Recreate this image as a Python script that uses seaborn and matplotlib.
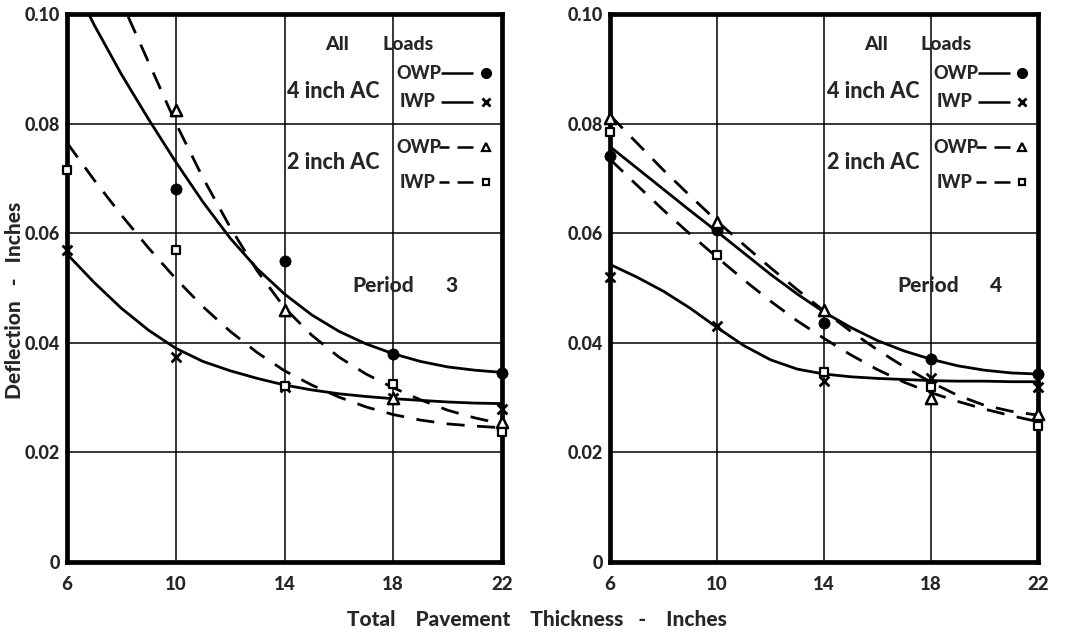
import numpy as np
import pandas as pd
import matplotlib
matplotlib.use("Agg")
import matplotlib.pyplot as plt
import seaborn as sns

# ---------------- data ----------------
thickness = [6, 10, 14, 18, 22]
x_ticks = [6, 10, 14, 18, 22]
y_ticks = [0, 0.02, 0.04, 0.06, 0.08, 0.10]
y_tick_labels = ["0", "0.02", "0.04", "0.06", "0.08", "0.10"]

# Period 3 measured points
p3_owp4_pts = [np.nan, 0.068, 0.055, 0.038, 0.0345]
p3_iwp4_pts = [0.057, 0.0375, 0.032, 0.030, 0.028]
p3_owp2_pts = [np.nan, 0.0825, 0.046, 0.030, 0.0255]
p3_iwp2_pts = [0.0715, 0.057, 0.0322, 0.0325, 0.0237]

# Period 4 measured points
p4_owp4_pts = [0.074, 0.0605, 0.0437, 0.037, 0.0343]
p4_iwp4_pts = [0.052, 0.043, 0.033, 0.0335, 0.032]
p4_owp2_pts = [0.081, 0.062, 0.046, 0.030, 0.027]
p4_iwp2_pts = [0.0785, 0.056, 0.0346, 0.032, 0.0249]

# fitted curves (read at each inch)
curve_x = [6, 7, 8, 9, 10, 11, 12, 13, 14, 15, 16, 17, 18, 19, 20, 21, 22]

p3_owp4_curve_x = [6.8, 7, 8, 9, 10, 11, 12, 13, 14, 15, 16, 17, 18, 19, 20, 21, 22]
p3_owp4_curve = [0.100, 0.0980, 0.0890, 0.0808, 0.0730, 0.0657, 0.0591, 0.0535, 0.0489,
                 0.0451, 0.0421, 0.0398, 0.0380, 0.0366, 0.0356, 0.0350, 0.0346]
p3_iwp4_curve = [0.0562, 0.0510, 0.0463, 0.0423, 0.0390, 0.0366, 0.0349, 0.0335, 0.0323,
                 0.0314, 0.0307, 0.0302, 0.0298, 0.0295, 0.0292, 0.0290, 0.0289]
p3_owp2_curve_x = [8.25, 9, 10, 11, 12, 13, 14, 15, 16, 17, 18, 19, 20, 21, 22]
p3_owp2_curve = [0.0995, 0.0912, 0.0801, 0.0701, 0.0611, 0.0531, 0.0464, 0.0414, 0.0374,
                 0.0343, 0.0318, 0.0296, 0.0277, 0.0263, 0.0252]
p3_iwp2_curve = [0.0765, 0.0697, 0.0633, 0.0573, 0.0517, 0.0466, 0.0421, 0.0382, 0.0349,
                 0.0323, 0.0301, 0.0283, 0.0269, 0.0259, 0.0252, 0.0248, 0.0245]

p4_owp4_curve = [0.0758, 0.0719, 0.0680, 0.0641, 0.0603, 0.0564, 0.0525, 0.0489, 0.0456,
                 0.0428, 0.0404, 0.0385, 0.0370, 0.0358, 0.0350, 0.0345, 0.0343]
p4_iwp4_curve = [0.0543, 0.0520, 0.0494, 0.0463, 0.0428, 0.0395, 0.0369, 0.0352, 0.0343,
                 0.0338, 0.0335, 0.0333, 0.0331, 0.0330, 0.0330, 0.0329, 0.0329]
p4_owp2_curve = [0.0815, 0.0765, 0.0715, 0.0668, 0.0622, 0.0579, 0.0537, 0.0497, 0.0458,
                 0.0421, 0.0387, 0.0356, 0.0328, 0.0304, 0.0286, 0.0275, 0.0268]
p4_iwp2_curve = [0.0735, 0.0688, 0.0642, 0.0598, 0.0556, 0.0515, 0.0476, 0.0440, 0.0408,
                 0.0378, 0.0351, 0.0328, 0.0309, 0.0293, 0.0279, 0.0267, 0.0256]

# ---------------- styling ----------------
sns.set_theme(style="white")
plt.rcParams["font.family"] = ["Lato", "DejaVu Sans"]
W = "black"  # font weight

INK = "black"
DASH = (0, (6.5, 4.5))
LW = 2.0

fig = plt.figure(figsize=(10.7, 6.35), dpi=100)
ax_l = fig.add_axes([67 / 1070, 1 - 562 / 635, (502 - 67) / 1070, (562 - 14) / 635])
ax_r = fig.add_axes([610 / 1070, 1 - 562 / 635, (1038 - 610) / 1070, (562 - 14) / 635])

panels = [
    (ax_l, "3",
     [(p3_owp4_curve_x, p3_owp4_curve, "-"), (curve_x, p3_iwp4_curve, "-"),
      (p3_owp2_curve_x, p3_owp2_curve, DASH), (curve_x, p3_iwp2_curve, DASH)],
     [p3_owp4_pts, p3_iwp4_pts, p3_owp2_pts, p3_iwp2_pts], 19.9, 16.5),
    (ax_r, "4",
     [(curve_x, p4_owp4_curve, "-"), (curve_x, p4_iwp4_curve, "-"),
      (curve_x, p4_owp2_curve, DASH), (curve_x, p4_iwp2_curve, DASH)],
     [p4_owp4_pts, p4_iwp4_pts, p4_owp2_pts, p4_iwp2_pts], 20.2, 16.73),
]

marker_specs = [
    dict(marker="o", s=65, color=INK, edgecolor=INK, linewidth=0.5),
    dict(marker="x", s=50, color=INK, linewidth=2.0),
    dict(marker="^", s=65, facecolor="white", edgecolor=INK, linewidth=1.8),
    dict(marker="s", s=28, facecolor="white", edgecolor=INK, linewidth=1.6),
]

for ax, num, curves, pts, num_x, period_x in panels:
    ax.set_xlim(6, 22)
    ax.set_ylim(0, 0.10)
    ax.set_xticks(x_ticks)
    ax.set_xticklabels([str(t) for t in x_ticks], fontsize=13.5, fontweight=W)
    ax.set_yticks(y_ticks)
    ax.set_yticklabels(y_tick_labels, fontsize=13, fontweight=W)
    ax.tick_params(length=0, pad=5)
    ax.tick_params(axis="x", pad=10)
    ax.grid(True, color=INK, linewidth=1.1)
    ax.set_axisbelow(True)
    for sp in ax.spines.values():
        sp.set_visible(True)
        sp.set_color(INK)
        sp.set_linewidth(3.4)

    for cx, cy, ls in curves:
        df = pd.DataFrame({"x": cx, "y": cy})
        sns.lineplot(data=df, x="x", y="y", ax=ax, color=INK, linewidth=LW,
                     linestyle=ls, sort=True, estimator=None)

    for yv, spec in zip(pts, marker_specs):
        df = pd.DataFrame({"x": thickness, "y": yv}).dropna()
        sns.scatterplot(data=df, x="x", y="y", ax=ax, zorder=5, clip_on=False, **spec)

    ax.set_xlabel("")
    ax.set_ylabel("")

    # annotations / legend block
    ax.text(15.5, 0.0945, "All", fontsize=14, fontweight=W, va="center", ha="left")
    ax.text(17.6, 0.0945, "Loads", fontsize=14, fontweight=W, va="center", ha="left")
    ax.text(14.1, 0.0859, "4 inch AC", fontsize=15.5, fontweight=W, va="center", ha="left")
    ax.text(14.1, 0.0729, "2 inch AC", fontsize=15.5, fontweight=W, va="center", ha="left")
    ax.text(period_x, 0.0504, "Period", fontsize=15, fontweight=W, va="center", ha="left")
    ax.text(num_x, 0.0504, num, fontsize=15, fontweight=W, va="center", ha="left")

    leg_rows = [("OWP", 0.0892, "-", "o"), ("IWP", 0.0840, "-", "x"),
                ("OWP", 0.0757, DASH, "^"), ("IWP", 0.0693, DASH, "s")]
    for label, yy, ls, mk in leg_rows:
        tx = 18.1 if label == "OWP" else 18.22
        ax.text(tx, yy, label, fontsize=13, fontweight=W, va="center", ha="left")
        if ls == "-":
            ax.plot([19.75, 20.95], [yy, yy], color=INK, lw=1.8, solid_capstyle="butt")
        else:
            ax.plot([19.7, 20.05], [yy, yy], color=INK, lw=1.8, solid_capstyle="butt")
            ax.plot([20.35, 20.95], [yy, yy], color=INK, lw=1.8, solid_capstyle="butt")
        if mk == "o":
            ax.plot([21.4], [yy], marker="o", ms=7, color=INK, clip_on=False)
        elif mk == "x":
            ax.plot([21.4], [yy], marker="x", ms=5.5, mew=2, color=INK, clip_on=False)
        elif mk == "^":
            ax.plot([21.4], [yy], marker="^", ms=6, mfc="white", mec=INK, mew=1.6, clip_on=False)
        else:
            ax.plot([21.4], [yy], marker="s", ms=5, mfc="white", mec=INK, mew=1.6, clip_on=False)

fig.text(15 / 1070, 1 - 300 / 635, "Deflection   -   Inches", rotation=90, fontsize=15,
         fontweight=W, ha="center", va="center")
fig.text(537 / 1070, 1 - 620 / 635, "Total    Pavement    Thickness   -    Inches", fontsize=15,
         fontweight=W, ha="center", va="center")

fig.savefig("out.png", dpi=100, facecolor="white")
